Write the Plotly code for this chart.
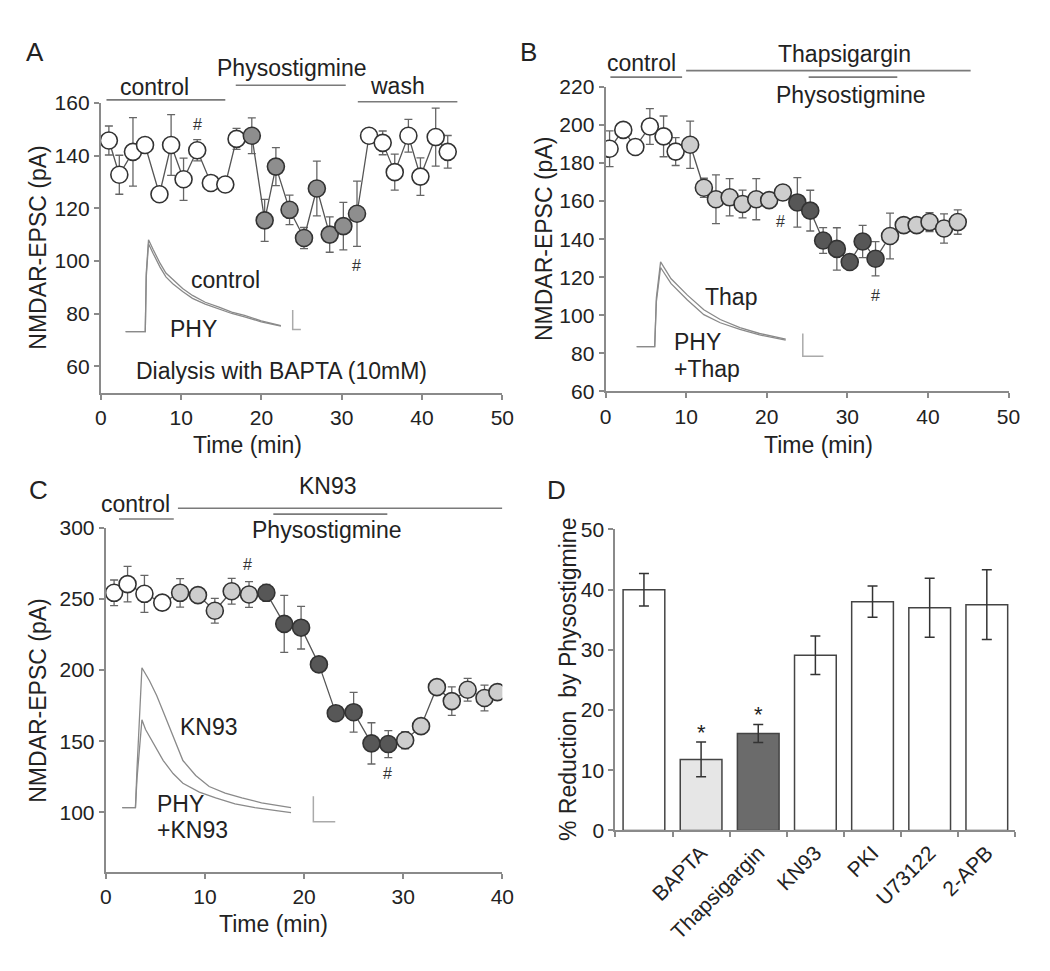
import plotly.graph_objects as go

W, H = 1050, 971

# ---------------- Panel A data (BAPTA dialysis) ----------------
a_time = [1.0, 2.3, 4.0, 5.5, 7.3, 8.75, 10.3, 12.0, 13.7, 15.5, 16.9, 18.8, 20.4, 21.8,
          23.5, 25.3, 26.9, 28.5, 30.2, 31.9, 33.4, 35.1, 36.6, 38.3, 39.8, 41.7, 43.2]
a_epsc = [145.7, 132.7, 141.4, 144.0, 125.3, 144.0, 131.0, 142.0, 129.6, 129.0, 146.3, 147.5,
          115.4, 135.8, 119.4, 108.7, 127.5, 110.0, 113.2, 117.9, 147.5, 144.8, 133.7, 147.5,
          132.0, 147.0, 141.4]
a_err = [5.5, 7.4, 13, 1, 1, 11.5, 8, 4, 1, 1, 4, 6.8, 8, 7.2, 5.6, 4, 10.4, 6.7, 9, 12.4,
         1, 4.5, 6.8, 6.2, 7.1, 11, 6.2]
a_group = ['w'] * 11 + ['g'] * 9 + ['w'] * 7
a_hash = [(12.0, 151.9), (31.8, 98.1)]
a_periods = [("control", 0.7, 15.5), ("Physostigmine", 16.8, 30.5), ("wash", 32.0, 44.4)]

# ---------------- Panel B data (Thapsigargin) ----------------
b_time = [0.5, 2.2, 3.7, 5.5, 7.2, 8.7, 10.5, 12.2, 13.7, 15.4, 17.0, 18.7, 20.3, 22.0,
          23.8, 25.4, 27.0, 28.7, 30.3, 31.9, 33.5, 35.3, 37.0, 38.6, 40.2, 42.0, 43.7]
b_epsc = [187.5, 197.4, 188.4, 199.2, 194.0, 186.0, 189.6, 167.0, 161.0, 162.0, 158.5, 161.0,
          160.5, 164.5, 159.3, 155.0, 139.3, 134.9, 128.0, 138.8, 129.7, 141.7, 147.4, 147.4,
          149.0, 145.6, 149.0]
b_err = [9.4, 2, 2, 9.4, 10.7, 7.3, 12.4, 5, 12.8, 9.8, 7.3, 10.8, 2, 4, 13, 10.7, 6.8,
         11.1, 2, 8.5, 9, 12, 2, 3, 5, 7.7, 6.4]
b_group = ['w'] * 6 + ['l'] * 8 + ['d'] * 7 + ['l'] * 6
b_hash = [(21.7, 149.1), (33.5, 110.6)]
b_periods = [("control", 0.6, 9.5), ("Thapsigargin", 10.0, 45.3), ("Physostigmine", 25.2, 36.2)]

# ---------------- Panel C data (KN93) ----------------
c_time = [0.84, 2.2, 3.9, 5.7, 7.5, 9.3, 11.0, 12.7, 14.45, 16.2, 18.0, 19.7, 21.5, 23.2,
          25.0, 26.8, 28.5, 30.2, 31.8, 33.4, 34.9, 36.5, 38.2, 39.5]
c_epsc = [254.3, 260.4, 253.6, 247.4, 254.3, 252.7, 241.7, 255.4, 253.1, 254.3, 232.5, 229.8,
          204.0, 169.7, 170.4, 148.5, 148.0, 150.7, 160.6, 188.0, 178.2, 186.2, 180.4, 184.5]
c_err = [9, 12.5, 13, 4, 10, 3, 8.7, 9, 9, 6, 20, 15, 2, 2, 14, 14.5, 9.5, 6, 2, 2, 10, 8, 9, 4]
c_group = ['w'] * 4 + ['l'] * 5 + ['d'] * 8 + ['l'] * 7
c_hash = [(14.3, 274.2), (28.4, 127.4)]
c_periods = [("control", 1.34, 6.86), ("KN93", 7.28, 40.0), ("Physostigmine", 16.9, 28.4)]

# ---------------- Panel D data (% reduction) ----------------
d_labels = [" ", "BAPTA", "Thapsigargin", "KN93", "PKI", "U73122", "2-APB"]
d_values = [40.0, 11.8, 16.1, 29.1, 38.0, 37.0, 37.5]
d_err = [2.7, 2.9, 1.5, 3.2, 2.6, 4.9, 5.8]
d_fill = ['white', '#e6e6e6', '#6b6b6b', 'white', 'white', 'white', 'white']
d_star = [False, True, True, False, False, False, False]

# ---------------- Inset EPSC traces (ms, pA-like units) ----------------
wa_t = [0, 20, 21, 23.3, 28, 35, 41, 48, 58, 68, 81, 95, 108, 121, 138, 158]
wa_ctrl = [0, 0, 60, 94, 84, 70, 60, 53, 44, 37, 30, 25, 20, 16.5, 11, 6]
wa_phy = [0, 0, 56, 90, 80, 66, 56, 49, 41, 34, 28, 23, 18.5, 15, 10, 5.5]
wa_bar_x = [170, 170, 192]
wa_bar_y = [22, 2, 2]

wb_t = [0, 18.3, 20, 24.3, 35, 51.6, 68.3, 85, 105, 125, 151.6]
wb_thap = [0, 0, 50, 86.7, 69.4, 52.7, 37.7, 27.7, 19.4, 13.4, 7.7]
wb_phy = [0, 0, 46, 81, 64.4, 47.7, 32.7, 24.4, 17.7, 12, 6.7]
wb_bar_x = [169, 169, 190]
wb_bar_y = [13.4, -10, -10]

wc_t1 = [0, 13.4, 15, 20, 27.7, 35, 41.7, 48.4, 54.7, 61.7, 74.7, 88.4, 104.7, 121.7, 141.7, 161.7, 171.7]
wc_kn93 = [0, 0, 40, 143.3, 130, 115, 98.3, 82, 65, 48.3, 33, 21.7, 15, 10, 5, 1.7, 0]
wc_t2 = [0, 13.4, 15, 20, 23.7, 28.4, 35, 41.7, 51.7, 61.7, 78.4, 95, 114.7, 135, 156.7, 171.7]
wc_phy = [0, 0, 30, 90, 80, 71.7, 60, 48.3, 35, 25, 16, 10, 4, 0, -3, -5]
wc_bar_x = [194.4, 194.4, 216.7]
wc_bar_y = [11.7, -14.3, -14.3]


def fx(p):
    return p / W


def fy(p):
    return 1 - p / H


FONT = "Liberation Sans, Arial, sans-serif"
AX = '#8a8a8a'
TXT = '#222222'
fill_map = {'w': 'white', 'g': '#8e8e8e', 'l': '#cdcdcd', 'd': '#575757'}

fig = go.Figure()


def add_series(x, y, err, groups, xa, ya):
    fig.add_trace(go.Scatter(
        x=x, y=y, mode='lines+markers', xaxis=xa, yaxis=ya,
        line=dict(color='#555555', width=1.3),
        marker=dict(size=17, color=[fill_map[g] for g in groups],
                    line=dict(color='#333333', width=1.6)),
        error_y=dict(type='data', array=err, color='#666666', thickness=1.3, width=4),
        showlegend=False, hoverinfo='skip'))


add_series(a_time, a_epsc, a_err, a_group, 'x', 'y')
add_series(b_time, b_epsc, b_err, b_group, 'x2', 'y2')
add_series(c_time, c_epsc, c_err, c_group, 'x3', 'y3')

fig.add_trace(go.Bar(
    x=d_labels, y=d_values, xaxis='x4', yaxis='y4', width=0.73,
    marker=dict(color=d_fill, line=dict(color='#444444', width=1.5)),
    error_y=dict(type='data', array=d_err, color='#333333', thickness=1.5, width=5),
    showlegend=False, hoverinfo='skip'))


def add_wave(x, y, xa, ya, color='#8a8a8a', width=1.3):
    fig.add_trace(go.Scatter(x=x, y=y, mode='lines', xaxis=xa, yaxis=ya,
                             line=dict(color=color, width=width),
                             showlegend=False, hoverinfo='skip'))


add_wave(wa_t, wa_ctrl, 'x5', 'y5')
add_wave(wa_t, wa_phy, 'x5', 'y5')
add_wave(wa_bar_x, wa_bar_y, 'x5', 'y5', '#aaaaaa', 1.5)
add_wave(wb_t, wb_thap, 'x6', 'y6')
add_wave(wb_t, wb_phy, 'x6', 'y6')
add_wave(wb_bar_x, wb_bar_y, 'x6', 'y6', '#aaaaaa', 1.5)
add_wave(wc_t1, wc_kn93, 'x7', 'y7')
add_wave(wc_t2, wc_phy, 'x7', 'y7')
add_wave(wc_bar_x, wc_bar_y, 'x7', 'y7', '#aaaaaa', 1.5)

axis_style = dict(showline=True, linecolor=AX, linewidth=2, ticks='outside', ticklen=5,
                  tickwidth=1.5, tickcolor=AX, showgrid=False, zeroline=False,
                  tickfont=dict(size=21, color=TXT, family=FONT), fixedrange=True)
hidden = dict(visible=False, fixedrange=True, showgrid=False, zeroline=False)

layout = dict(
    width=W, height=H, autosize=False,
    margin=dict(l=0, r=0, t=0, b=0),
    paper_bgcolor='white', plot_bgcolor='rgba(0,0,0,0)',
    font=dict(family=FONT, color=TXT, size=22),
    xaxis=dict(axis_style, domain=[fx(96.5), fx(505)], range=[0, 50], tickvals=[0, 10, 20, 30, 40, 50], anchor='y'),
    yaxis=dict(axis_style, domain=[fy(390), fy(93)], range=[50, 160], tickvals=[60, 80, 100, 120, 140, 160], anchor='x'),
    xaxis2=dict(axis_style, domain=[fx(610), fx(1020)], range=[0, 50], tickvals=[0, 10, 20, 30, 40, 50], anchor='y2'),
    yaxis2=dict(axis_style, domain=[fy(388.7), fy(76.7)], range=[60, 220], tickvals=list(range(60, 221, 20)), anchor='x2'),
    xaxis3=dict(axis_style, domain=[fx(101.5), fx(505)], range=[0, 40], tickvals=[0, 10, 20, 30, 40], anchor='y3'),
    yaxis3=dict(axis_style, domain=[fy(881), fy(528.3)], range=[58, 300], tickvals=[100, 150, 200, 250, 300], anchor='x3'),
    xaxis4=dict(axis_style, domain=[fx(620), fx(1027)], type='category', range=[-0.5, 6.5],
                tickson='boundaries', tickangle=-45, ticklen=5, anchor='y4'),
    yaxis4=dict(axis_style, domain=[fy(838.3), fy(530)], range=[0, 50], tickvals=[0, 10, 20, 30, 40, 50], anchor='x4'),
    xaxis5=dict(hidden, domain=[fx(115), fx(300)], range=[-6.7, 178.3], anchor='y5'),
    yaxis5=dict(hidden, domain=[fy(335), fy(225)], range=[-7.7, 102.3], anchor='x5'),
    xaxis6=dict(hidden, domain=[fx(630), fx(840)], range=[-11.7, 198.3], anchor='y6'),
    yaxis6=dict(hidden, domain=[fy(360), fy(245)], range=[-17.3, 97.7], anchor='x6'),
    xaxis7=dict(hidden, domain=[fx(110), fx(345)], range=[-8.3, 226.7], anchor='y7'),
    yaxis7=dict(hidden, domain=[fy(835), fy(660)], range=[-20, 155], anchor='x7'),
)

shapes = []
annotations = []


def period_bar(xa, t0, t1, ypx):
    shapes.append(dict(type='line', xref=xa, yref='paper', x0=t0, x1=t1, y0=fy(ypx), y1=fy(ypx),
                       line=dict(color='#7a7a7a', width=1.6)))


def txt(text, xpx, ypx, size=23, xanchor='center', angle=0, color=TXT):
    annotations.append(dict(text=text, xref='paper', yref='paper', x=fx(xpx), y=fy(ypx),
                            xanchor=xanchor, yanchor='middle', showarrow=False, textangle=angle,
                            font=dict(size=size, color=color, family=FONT)))


# Panel A annotations
period_bar('x', a_periods[0][1], a_periods[0][2], 90)
period_bar('x', a_periods[1][1], a_periods[1][2], 75)
period_bar('x', a_periods[2][1], a_periods[2][2], 92)
txt(a_periods[0][0], 151, 77)
txt(a_periods[1][0], 291, 57)
txt(a_periods[2][0], 398, 76)
txt("Dialysis with BAPTA (10mM)", 280, 368)
txt("control", 223, 274)
txt("PHY", 165, 325, xanchor='left')

# Panel B annotations
period_bar('x2', b_periods[0][1], b_periods[0][2], 66.7)
period_bar('x2', b_periods[1][1], b_periods[1][2], 60)
period_bar('x2', b_periods[2][1], b_periods[2][2], 66.7)
txt(b_periods[0][0], 647, 52)
txt(b_periods[1][0], 853, 43)
txt(b_periods[2][0], 860, 85)
txt("Thap", 738, 292)
txt("PHY", 678, 338, xanchor='left')
txt("+Thap", 678, 366, xanchor='left')

# Panel C annotations
period_bar('x3', c_periods[0][1], c_periods[0][2], 519.3)
period_bar('x3', c_periods[1][1], c_periods[1][2], 508.3)
period_bar('x3', c_periods[2][1], c_periods[2][2], 514.3)
txt(c_periods[0][0], 132, 504)
txt(c_periods[1][0], 328, 486)
txt(c_periods[2][0], 327, 531)
txt("KN93", 207, 732)
txt("PHY", 152, 811, xanchor='left')
txt("+KN93", 152, 838, xanchor='left')

# hash marks
for xa, ya, pts in (('x', 'y', a_hash), ('x2', 'y2', b_hash), ('x3', 'y3', c_hash)):
    for t, v in pts:
        annotations.append(dict(text='#', xref=xa, yref=ya, x=t, y=v, showarrow=False,
                                xanchor='center', yanchor='middle',
                                font=dict(size=16, color='#333333', family=FONT)))

# stars on D
for lab, v, e, s in zip(d_labels, d_values, d_err, d_star):
    if s:
        annotations.append(dict(text='*', xref='x4', yref='y4', x=lab, y=v + e + 1.6,
                                showarrow=False, xanchor='center', yanchor='middle',
                                font=dict(size=22, color='#222222', family=FONT)))

# axis titles
txt("NMDAR-EPSC (pA)", 33, 241, angle=-90)
txt("NMDAR-EPSC (pA)", 548, 233, angle=-90)
txt("NMDAR-EPSC (pA)", 33, 705, angle=-90)
txt("% Reduction  by Physostigmine", 572, 684, angle=-90)
txt("Time (min)", 246, 443)
txt("Time (min)", 827, 443)
txt("Time (min)", 272, 934)

# panel letters
txt("A", 30, 41, size=26)
txt("B", 532, 41, size=26)
txt("C", 33, 490, size=26)
txt("D", 560, 490, size=26)

layout['shapes'] = shapes
layout['annotations'] = annotations
fig.update_layout(layout)

fig.write_html("out.html", config={'displayModeBar': False},
               post_script="document.body.style.margin='0px';")
